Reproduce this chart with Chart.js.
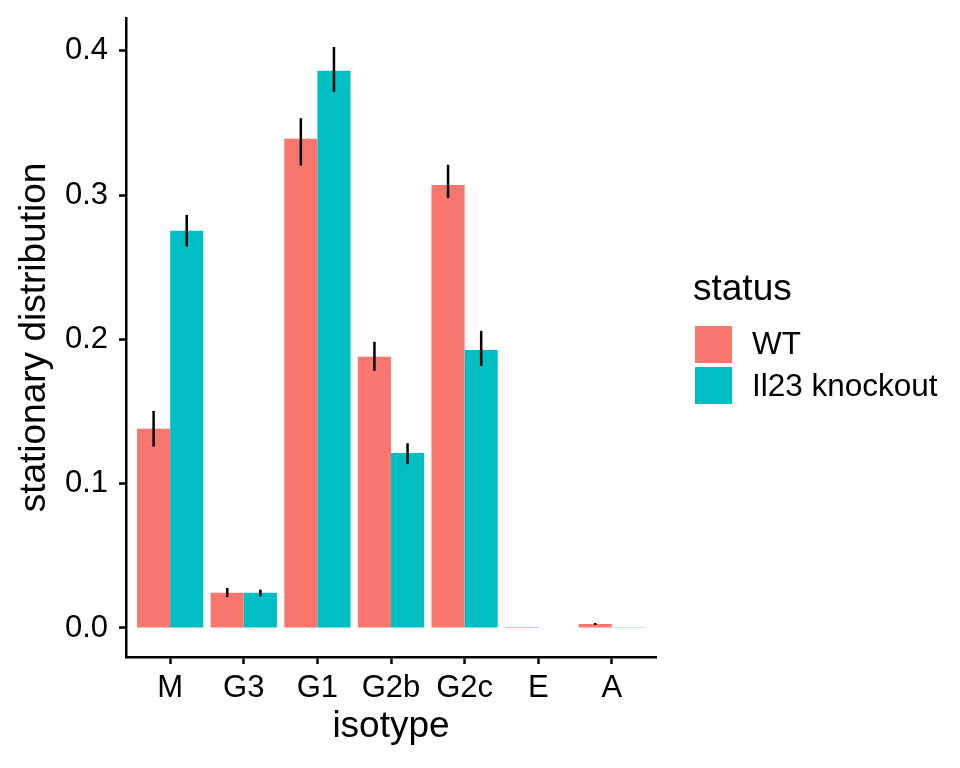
<!DOCTYPE html>
<html>
<head>
<meta charset="utf-8">
<script src="https://cdn.jsdelivr.net/npm/chart.js@4.4.1/dist/chart.umd.min.js"></script>
<style>
  body { margin: 0; background: #fff; }
  #wrap { position: relative; width: 960px; height: 768px; font-family: "Liberation Sans", Arial, sans-serif; color: #000; }
  .lg { position: absolute; white-space: nowrap; }
  .key { position: absolute; width: 37px; height: 37px; }
</style>
</head>
<body>
<div id="wrap">
  <canvas id="chart" width="960" height="768"></canvas>
  <div class="lg" style="left:693px; top:269.4px; font-size:37px; line-height:37px;">status</div>
  <div class="key" style="left:695px; top:326px; background:#F8766D;"></div>
  <div class="key" style="left:695px; top:367px; background:#00BFC4;"></div>
  <div class="lg" style="left:752px; top:328.4px; font-size:31.5px; line-height:31.5px;">WT</div>
  <div class="lg" style="left:752px; top:370px; font-size:31.5px; line-height:31.5px;">Il23 knockout</div>
</div>
<script>
const categories = ["M", "G3", "G1", "G2b", "G2c", "E", "A"];

const wtMean  = [0.138, 0.0245, 0.339, 0.188, 0.307, 0.0007, 0.0028];
const wtLower = [0.1257, 0.0215, 0.3205, 0.1782, 0.298, 0.0007, 0.0021];
const wtUpper = [0.1504, 0.0277, 0.3533, 0.1983, 0.321, 0.0007, 0.0035];

const koMean  = [0.2752, 0.0245, 0.3861, 0.1213, 0.1927, 0, 0.0006];
const koLower = [0.2643, 0.022, 0.3714, 0.1135, 0.1816, 0, 0.0006];
const koUpper = [0.2863, 0.0266, 0.4026, 0.128, 0.2059, 0, 0.0006];

const yTicks = [0, 0.1, 0.2, 0.3, 0.4];

Chart.defaults.font.family = "'Liberation Sans', Arial, sans-serif";
Chart.defaults.color = "#000";

// vertical error bars, no caps
const errorBars = {
  id: "errorBars",
  afterDatasetsDraw(chart) {
    const ctx = chart.ctx;
    const y = chart.scales.y;
    const lows = [wtLower, koLower];
    const highs = [wtUpper, koUpper];
    ctx.save();
    ctx.strokeStyle = "#000";
    ctx.lineWidth = 2.5;
    chart.data.datasets.forEach((ds, d) => {
      chart.getDatasetMeta(d).data.forEach((bar, i) => {
        if (highs[d][i] === lows[d][i]) return;
        ctx.beginPath();
        ctx.moveTo(bar.x, y.getPixelForValue(lows[d][i]));
        ctx.lineTo(bar.x, y.getPixelForValue(highs[d][i]));
        ctx.stroke();
      });
    });
    ctx.restore();
  }
};

new Chart(document.getElementById("chart"), {
  type: "bar",
  data: {
    datasets: [
      {
        label: "WT",
        data: wtMean.map((v, i) => ({ x: i + 1, y: v })),
        backgroundColor: "#F8766D"
      },
      {
        label: "Il23 knockout",
        data: koMean.map((v, i) => ({ x: i + 1, y: v })),
        backgroundColor: "#00BFC4"
      }
    ]
  },
  options: {
    responsive: false,
    animation: false,
    borderWidth: 0,
    categoryPercentage: 0.9,
    barPercentage: 1,
    layout: { padding: { left: 0, top: 18, right: 304, bottom: 0 } },
    plugins: { legend: { display: false }, tooltip: { enabled: false } },
    scales: {
      x: {
        type: "linear",
        offset: false,
        min: 0.4,
        max: 7.6,
        afterBuildTicks: s => { s.ticks = categories.map((c, i) => ({ value: i + 1 })); },
        afterFit: s => { s.height = 111; s.paddingLeft = 0; s.paddingRight = 0; },
        ticks: {
          font: { size: 31 },
          padding: 5.4,
          autoSkip: false,
          maxRotation: 0,
          callback: v => categories[v - 1]
        },
        grid: { drawOnChartArea: false, offset: false, tickLength: 7, tickWidth: 2.5, tickColor: "#000" },
        border: { display: true, color: "#000", width: 2.5 },
        title: { display: true, text: "isotype", font: { size: 37 }, padding: { top: 0, bottom: 18.8 } }
      },
      y: {
        min: -0.0201,
        max: 0.4227,
        afterBuildTicks: s => { s.ticks = yTicks.map(v => ({ value: v })); },
        afterFit: s => { s.width = 126; s.paddingTop = 0; s.paddingBottom = 0; },
        ticks: {
          font: { size: 31 },
          padding: 11,
          callback: v => v.toFixed(1)
        },
        grid: { drawOnChartArea: false, tickLength: 7, tickWidth: 2.5, tickColor: "#000" },
        border: { display: true, color: "#000", width: 2.5 },
        title: { display: true, text: "stationary distribution", font: { size: 37 }, padding: { top: 12.8, bottom: 0 } }
      }
    }
  },
  plugins: [errorBars]
});
</script>
</body>
</html>
